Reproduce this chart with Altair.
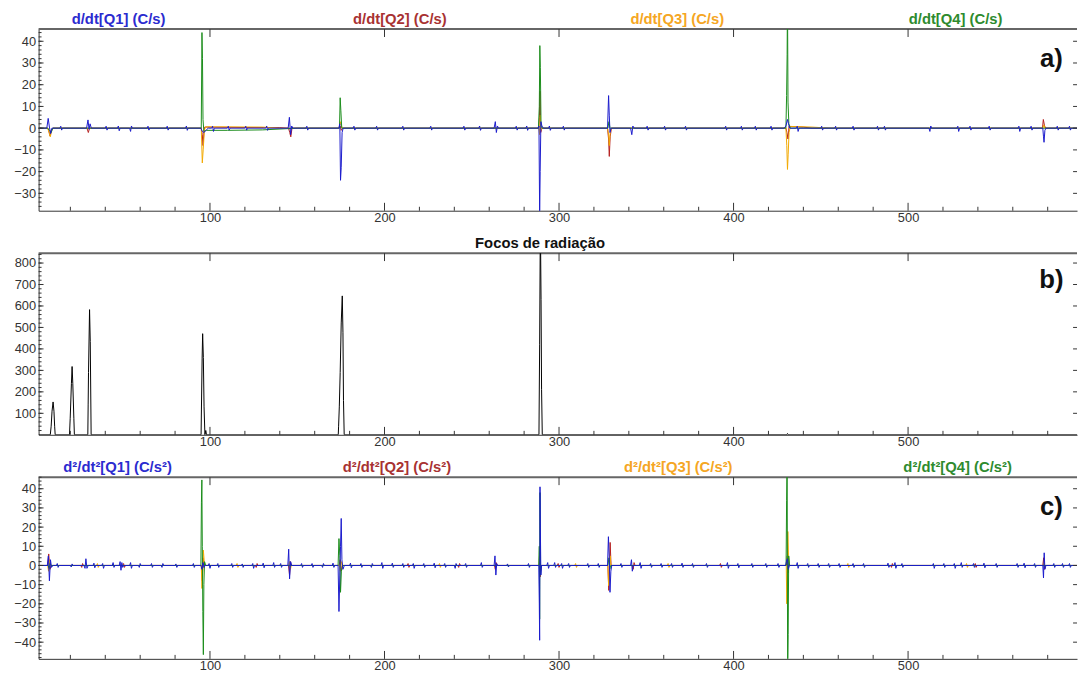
import altair as alt
import pandas as pd

# ---------------- data ----------------
X_DOMAIN = [1.8, 596.8]
X_MAJOR = [100, 200, 300, 400, 500]
X_MINOR = [20, 40, 60, 80, 120, 140, 160, 180, 220, 240, 260, 280, 320, 340, 360, 380,
           420, 440, 460, 480, 520, 540, 560, 580]

SERIES = ["Q1", "Q2", "Q3", "Q4"]
LINE_COLORS = ["#1a1acc", "#b52020", "#f2a900", "#1a8c1a"]
TITLE_COLORS = ["#2b2bcf", "#a83232", "#f5a623", "#2e8b2e"]

TITLES_A = ["d/dt[Q1] (C/s)", "d/dt[Q2] (C/s)", "d/dt[Q3] (C/s)", "d/dt[Q4] (C/s)"]
TITLES_C = ["d\u00b2/dt\u00b2[Q1] (C/s\u00b2)", "d\u00b2/dt\u00b2[Q2] (C/s\u00b2)",
            "d\u00b2/dt\u00b2[Q3] (C/s\u00b2)", "d\u00b2/dt\u00b2[Q4] (C/s\u00b2)"]
TITLE_B = "Focos de radia\u00e7\u00e3o"

# panel a) first derivative
A_Q1 = [(1.8,0),(6.5,0),(7.3,4.5),(8.0,0.5),(8.7,-2.5),(9.4,0),
        (14,0),(14.5,0.9),(15,-0.9),(15.5,0),
        (29.3,0),(30.1,3.8),(30.7,-0.5),(31.3,2),(32,0),
        (40,0),(40.5,0.9),(41,-0.9),(41.5,0),
        (47,0),(47.5,1),(48,-1.2),(48.5,0),
        (54,0),(54.5,-1.5),(55,1),(55.5,0),
        (64,0),(64.5,0.9),(65,-0.9),(65.5,0),
        (75,0),(75.5,0.9),(76,-0.9),(76.5,0),
        (86,0),(86.5,1),(87,-1),(87.5,0),
        (94.8,0),(95.6,-1.5),(96.5,-2),(97.5,-1.2),(99,0),
        (101,0),(101.5,0.9),(102,-1.5),(102.5,0),
        (110,0),(110.5,0.9),(111,-0.9),(111.5,0),
        (120,0),(120.5,0.9),(121,-0.9),(121.5,0),
        (132,0),(132.5,1),(133,-1),(133.5,0),
        (144.8,0),(145.5,5),(146.2,-3),(146.8,1),(147.5,0),
        (155,0),(155.5,0.9),(156,-0.9),(156.5,0),
        (173.8,0),(174.4,2),(174.8,-24),(175.2,-18),(175.7,-2),(176.3,0),
        (182,0),(182.5,0.9),(183,-0.9),(183.5,0),
        (195,0),(195.5,0.9),(196,-0.9),(196.5,0),
        (210,0),(210.5,0.9),(211,-0.9),(211.5,0),
        (226,0),(226.5,0.9),(227,-0.9),(227.5,0),
        (245,0),(245.5,0.9),(246,-0.9),(246.5,0),
        (254,0),(254.5,1),(255,-1),(255.5,0),
        (262.8,0),(263.5,3),(264.1,-2),(264.7,1),(265.3,0),
        (275,0),(275.5,0.9),(276,-0.9),(276.5,0),
        (281,0),(281.5,1),(282,-1),(282.5,0),
        (288,0),(288.5,1),(288.9,-40),(289.2,-20),(289.6,3),(290.2,1),(291,0),
        (294,0),(294.5,1),(295,-1),(295.5,0),
        (302,0),(302.5,0.9),(303,-0.9),(303.5,0),
        (327.8,0),(328.4,15),(328.8,6),(329.2,-2),(329.8,0),
        (341,0),(341.7,-3),(342.3,1),(343,0),
        (350,0),(350.5,0.9),(351,-0.9),(351.5,0),
        (360,0),(360.5,0.9),(361,-0.9),(361.5,0),
        (372,0),(372.5,0.9),(373,-0.9),(373.5,0),
        (395,0),(395.5,0.9),(396,-0.9),(396.5,0),
        (404,0),(404.5,0.9),(405,-0.9),(405.5,0),
        (412,0),(412.5,0.9),(413,-0.9),(413.5,0),
        (421,0),(421.5,0.9),(422,-0.9),(422.5,0),
        (429,0),(430,1),(430.9,4),(431.5,2),(432.2,0),
        (436,0),(436.5,0.9),(437,-1.5),(437.5,0),
        (450,0),(450.5,0.9),(451,-0.9),(451.5,0),
        (458,0),(458.5,0.9),(459,-0.9),(459.5,0),
        (468,0),(468.5,0.9),(469,-0.9),(469.5,0),
        (482,0),(482.5,0.9),(483,-0.9),(483.5,0),
        (486,0),(486.5,0.9),(487,-0.9),(487.5,0),
        (512,0),(512.5,-1.5),(513,1),(513.5,0),
        (528,0),(528.5,0.9),(529,-1.5),(529.5,0),
        (535,0),(535.5,0.9),(536,-0.9),(536.5,0),
        (546,0),(546.5,0.9),(547,-0.9),(547.5,0),
        (563,0),(563.5,0.9),(564,-1.5),(564.5,0),
        (570,0),(570.5,0.9),(571,-0.9),(571.5,0),
        (577.2,0),(577.6,-4),(577.9,-6.5),(578.4,-1),(579,0),
        (585,0),(585.5,0.9),(586,-0.9),(586.5,0),
        (592,0),(592.5,0.9),(593,-0.9),(593.5,0),
        (596.8,0)]
A_Q2 = [(1.8,0),(7,0),(7.6,-1),(8.3,-3.5),(9,-1),(10,0),(29.5,0),(30.3,-2),(31,0),
        (95,0),(95.6,-3),(96,-8),(96.6,-1),(97,0.5),(120,0.3),(140,0.3),
        (145,0),(145.7,-2),(146.3,-4),(147,0),(174,0),(174.6,1),(175.2,-1),(176,0),
        (288.4,0),(288.8,5),(289.1,17),(289.5,-2),(290.2,0),
        (327.8,0),(328.4,-5),(328.8,-13),(329.3,-4),(330,0),
        (430,0),(430.6,-2),(431.2,-5),(431.8,1),(432.4,0.8),(440,0.5),(445,0),
        (577,0),(577.5,4),(578.2,1),(579,0),(596.8,0)]
A_Q3 = [(1.8,0),(7,0),(7.8,-2),(8.5,-4),(9.3,-1),(10,0),
        (95,0),(95.6,-16),(96.1,-10),(96.8,-1),(97.5,0.6),(110,0.6),(130,0.5),(140,0),
        (174,0),(174.6,3),(175.3,1),(176,0),
        (288.4,0),(288.9,-3),(289.2,6),(289.6,-1),(290.2,0),
        (327.8,0),(328.4,-3),(328.8,-8),(329.3,-2),(330,0),
        (430,0),(430.5,-8),(430.9,-19),(431.3,-12),(431.8,-2),(432.5,0.8),(445,0.5),(455,0),
        (577.2,0),(577.8,1.5),(578.4,0),(596.8,0)]
A_Q4 = [(1.8,0),(7,0),(8,-1),(9,-2),(10,0),
        (95,0),(95.4,44),(95.7,32),(96,4),(96.5,-1.5),(98,-1),(110,-1),(130,-0.8),(150,0),
        (174.2,0),(174.6,14),(175,8),(175.5,0),
        (288.2,0),(288.7,10),(289,38),(289.3,28),(289.7,1),(290.3,0),
        (328,0),(328.6,3),(329.2,0),
        (430,0),(430.4,15),(430.7,34),(430.9,60),(431.2,12),(431.7,2),(432.5,0),
        (596.8,0)]

# panel b) radiation foci
B_FOCI = [(1.8,0),(8.5,0),(9.0,40),(9.5,110),(10.1,153),(10.6,110),(11.0,40),(11.3,0),
          (19.5,0),(19.9,77),(20.6,238),(21.0,318),(21.4,238),(22.0,77),(22.3,0),
          (30.0,0),(30.2,143),(30.4,290),(31.0,583),(31.4,434),(31.9,0),
          (94.9,0),(95.1,120),(95.5,357),(95.8,471),(96.2,360),(96.6,130),(97.1,0),(97.6,20),(98.0,0),
          (173.5,0),(173.7,40),(174.1,130),(174.6,290),(175.2,521),(175.8,647),(176.2,475),(176.5,160),(176.9,0),
          (288.5,0),(288.9,422),(289.3,1000),(289.7,631),(290.0,212),(290.4,0),
          (430.4,0),(430.9,6),(431.4,0),(596.8,0)]

# panel c) second derivative
C_Q1 = [(1.8,0),(6.8,0),(7.4,5),(8.0,-8),(8.6,3),(9.2,-1),(10,0),
        (12,0),(12.5,1),(13,-1),(13.5,0),
        (20,0),(20.5,-0.8),(21,0.8),(21.5,0),
        (27.8,0),(28.4,-1.5),(28.9,3.5),(29.5,-1.5),(30.2,0),
        (33,0),(33.5,1.2),(34,-1.2),(34.5,0),
        (38,0),(38.5,1),(39,-1.5),(39.5,0),
        (44,0),(44.5,1.5),(45,-1),(45.5,0),
        (48,0),(48.5,2),(49,-2.5),(49.5,1.5),(50,-1),(50.5,0),
        (54,0),(54.5,1.5),(55,-1.5),(55.5,0),
        (59,0),(59.5,-1),(60,1),(60.5,0),
        (66,0),(66.5,1),(67,-1),(67.5,0),
        (72,0),(72.5,-1),(73,1),(73.5,0),
        (80,0),(80.5,0.8),(81,-1),(81.5,0),
        (90,0),(90.5,1),(91,-1),(91.5,0),
        (94.8,0),(95.4,-2),(96,1.5),(96.6,-1),(97.2,0),
        (99,0),(99.5,1),(100,-1.5),(100.5,0),
        (104,0),(104.5,1),(105,-1),(105.5,0),
        (112,0),(112.5,1),(113,-1),(113.5,0),
        (118,0),(118.5,0.8),(119,-1),(119.5,0),
        (124,0),(124.5,1),(125,-1.5),(125.5,0),
        (130,0),(130.5,1.2),(131,-1.2),(131.5,0),
        (136,0),(136.5,1.5),(137,-1),(137.5,0),
        (140,0),(140.5,1),(141,-1),(141.5,0),
        (144.6,0),(145.1,8.5),(145.6,-7),(146.2,2),(146.8,0),
        (152,0),(152.5,1),(153,-1),(153.5,0),
        (158,0),(158.5,1),(159,-1),(159.5,0),
        (164,0),(164.5,-1),(165,1),(165.5,0),
        (170,0),(170.5,1.2),(171,-1),(171.5,0),
        (173.4,0),(173.9,-24),(174.4,-5),(174.8,10),(175.2,24.5),(175.6,3),(176.2,-2),(177,0),
        (180,0),(180.5,1.2),(181,-1.2),(181.5,0),
        (186,0),(186.5,1),(187,-1),(187.5,0),
        (192,0),(192.5,-1),(193,1),(193.5,0),
        (198,0),(198.5,1.5),(199,-1.5),(199.5,0),
        (204,0),(204.5,1.2),(205,-1),(205.5,0),
        (210,0),(210.5,1),(211,-1),(211.5,0),
        (216,0),(216.5,1),(217,-1.5),(217.5,0),
        (222,0),(222.5,1),(223,-1),(223.5,0),
        (228,0),(228.5,1.2),(229,-1.2),(229.5,0),
        (234,0),(234.5,1),(235,-1),(235.5,0),
        (240,0),(240.5,-1.5),(241,1),(241.5,0),
        (246,0),(246.5,1),(247,-1),(247.5,0),
        (255,0),(255.5,1.5),(256,-1),(256.5,0),
        (262.8,0),(263.3,5),(263.8,-5),(264.3,1),(264.8,0),
        (270,0),(270.5,0.8),(271,-0.8),(271.5,0),
        (282,0),(282.5,1),(283,-1),(283.5,0),
        (288.4,0),(288.7,-20),(288.9,-39),(289.1,41),(289.3,20),(289.6,-5),(290.0,0),
        (293,0),(293.5,1.5),(294,-1.5),(294.5,0),
        (297,0),(297.5,1.5),(298,-1),(298.5,0),
        (301,0),(301.5,1),(302,-1.5),(302.5,0),
        (305,0),(305.5,1),(306,-1),(306.5,0),
        (316,0),(316.5,1),(317,-1),(317.5,0),
        (322,0),(322.5,1),(323,-1),(323.5,0),
        (327.8,0),(328.3,15),(328.8,4),(329.2,-14),(329.7,-3),(330.2,0),
        (335,0),(335.5,1),(336,-1),(336.5,0),
        (341,0),(341.5,3),(342,-3),(342.5,0),
        (346,0),(346.5,1.5),(347,-1.5),(347.5,0),
        (352,0),(352.5,1),(353,-1),(353.5,0),
        (358,0),(358.5,1),(359,-1),(359.5,0),
        (364,0),(364.5,1),(365,-1),(365.5,0),
        (370,0),(370.5,1.2),(371,-1),(371.5,0),
        (376,0),(376.5,1),(377,-1),(377.5,0),
        (384,0),(384.5,1),(385,-1),(385.5,0),
        (396,0),(396.5,1.5),(397,-1.5),(397.5,0),
        (402,0),(402.5,1),(403,-1.2),(403.5,0),
        (410,0),(410.5,1),(411,-1),(411.5,0),
        (418,0),(418.5,1),(419,-1),(419.5,0),
        (425,0),(425.5,1),(426,-1),(426.5,0),
        (429.8,0),(430.3,2),(430.9,3.5),(431.4,-2),(432,0),
        (436,0),(436.5,1.5),(437,-1.5),(437.5,0),
        (442,0),(442.5,1),(443,-1),(443.5,0),
        (448,0),(448.5,1),(449,-1),(449.5,0),
        (454,0),(454.5,1),(455,-1),(455.5,0),
        (460,0),(460.5,1),(461,-1),(461.5,0),
        (468,0),(468.5,1),(469,-1),(469.5,0),
        (474,0),(474.5,1),(475,-1),(475.5,0),
        (488,0),(488.5,1.2),(489,-1),(489.5,0),
        (492,0),(492.5,1.5),(493,-1.5),(493.5,0),
        (496,0),(496.5,1),(497,-1),(497.5,0),
        (514,0),(514.5,1),(515,-1.5),(515.5,0),
        (520,0),(520.5,1),(521,-1),(521.5,0),
        (526,0),(526.5,1),(527,-1.5),(527.5,0),
        (530,0),(530.5,1.5),(531,-1),(531.5,0),
        (537,0),(537.5,1),(538,-1),(538.5,0),
        (543,0),(543.5,1.2),(544,-1.2),(544.5,0),
        (550,0),(550.5,1),(551,-1),(551.5,0),
        (562,0),(562.5,1),(563,-1),(563.5,0),
        (566,0),(566.5,1.2),(567,-1.2),(567.5,0),
        (572,0),(572.5,1),(573,-1),(573.5,0),
        (577.2,0),(577.6,-6.5),(578.0,6.6),(578.4,-2),(579,0),
        (583,0),(583.5,1),(584,-1),(584.5,0),
        (588,0),(588.5,1),(589,-1),(589.5,0),
        (592,0),(592.5,1),(593,-1),(593.5,0),
        (596.8,0)]
C_Q2 = [(1.8,0),(7,0),(7.6,6),(8.3,-2),(9,0),
        (26,0),(26.5,-1),(27,1),(27.5,0),
        (50,0),(50.5,1),(51,-1),(51.5,0),
        (95.2,0),(95.6,-8),(96,4),(96.5,-1),(97,0),
        (126,0),(126.5,-1),(127,1),(127.5,0),
        (145,0),(145.6,-5),(146.1,2),(146.6,0),
        (174,0),(174.6,3),(175.2,-3),(175.8,0),
        (213,0),(213.5,1),(214,-1),(214.5,0),
        (242,0),(242.5,-1),(243,1),(243.5,0),
        (263,0),(263.5,-2),(264,1.5),(264.5,0),
        (288.6,0),(288.9,7),(289.2,-6),(289.6,0),
        (299,0),(299.5,1),(300,-1),(300.5,0),
        (328,0),(328.5,-13),(328.9,-3),(329.3,12),(329.8,0),
        (342,0),(342.5,-2),(343,1.5),(343.5,0),
        (392,0),(392.5,1),(393,-1),(393.5,0),
        (430.3,0),(430.8,5),(431.2,-4),(431.6,0),
        (490,0),(490.5,-1),(491,1),(491.5,0),
        (538,0),(538.5,1),(539,-1),(539.5,0),
        (577.2,0),(577.7,4),(578.2,-2),(578.7,0),(596.8,0)]
C_Q3 = [(1.8,0),(7,0),(7.5,-3),(8.1,2.5),(8.8,0),
        (35,0),(35.5,1),(36,-1),(36.5,0),
        (95,0),(95.4,-12),(95.8,-6),(96.2,8),(96.7,2),(97.3,0),
        (115,0),(115.5,1),(116,-1),(116.5,0),
        (145,0),(145.6,2),(146.1,-2),(146.6,0),
        (174.2,0),(174.7,-3),(175.3,2),(175.9,0),
        (231,0),(231.5,1),(232,-1),(232.5,0),
        (288.7,0),(289,3),(289.3,-3),(289.7,0),
        (309,0),(309.5,1),(310,-1),(310.5,0),
        (328,0),(328.4,-10.5),(328.9,-2),(329.3,5),(329.8,0),
        (362,0),(362.5,1),(363,-1),(363.5,0),
        (430.2,0),(430.5,-20),(430.8,-10),(431.1,17.7),(431.5,5),(432,0),
        (465,0),(465.5,1),(466,-1),(466.5,0),
        (533,0),(533.5,1),(534,-1),(534.5,0),
        (577.5,0),(577.9,1.5),(578.3,0),(596.8,0)]
C_Q4 = [(1.8,0),(7.3,0),(7.8,-1.5),(8.4,1),(9,0),
        (94.8,0),(95.1,33),(95.35,44.6),(95.6,10),(95.9,-24),(96.2,-46.5),(96.5,-10),(96.9,2),(97.5,0),
        (173.4,0),(173.9,14),(174.4,5),(174.8,-14),(175.3,-3),(176,0),
        (288.4,0),(288.7,10),(288.9,-28),(289.1,38),(289.4,-5),(289.8,0),
        (328,0),(328.6,4),(329.1,-2),(329.6,0),
        (430.1,0),(430.4,34),(430.7,60),(431.0,-60),(431.3,-36),(431.6,5),(432.1,0),
        (596.8,0)]

A_Y_DOMAIN = [-38, 45.6]
A_Y_TICKS = [-30, -20, -10, 0, 10, 20, 30, 40]
B_Y_DOMAIN = [0, 846]
B_Y_TICKS = [100, 200, 300, 400, 500, 600, 700, 800]
C_Y_DOMAIN = [-48.7, 46]
C_Y_TICKS = [-40, -30, -20, -10, 0, 10, 20, 30, 40]

# ---------------- styling ----------------
W, H = 1052, 184
FONT = "Liberation Sans"
AXIS_COLOR = "#333333"
LABEL_COLOR = "#333333"


def one_row(v):
    return pd.DataFrame({"v": [v]})


def make_panel(series, colors, ydomain, yticks, yminor_step, titles, title_colors,
               title_x, letter, letter_y):
    xscale = alt.Scale(domain=X_DOMAIN, nice=False, zero=False)
    yscale = alt.Scale(domain=ydomain, nice=False, zero=False)
    xaxis = alt.Axis(values=X_MAJOR, format="d", ticks=False, grid=False, title=None,
                     labelFont=FONT, labelFontSize=13, labelColor=LABEL_COLOR,
                     domainColor=AXIS_COLOR, domainWidth=1, labelPadding=1, labelFlush=False)
    yaxis = alt.Axis(values=yticks, format="d", ticks=False, grid=False, title=None,
                     labelFont=FONT, labelFontSize=13, labelColor=LABEL_COLOR,
                     domainColor=AXIS_COLOR, domainWidth=1, labelPadding=3, labelFlush=False)

    def X(f="x"):
        return alt.X(f"{f}:Q", scale=xscale, axis=xaxis)

    def Y(f="y"):
        return alt.Y(f"{f}:Q", scale=yscale, axis=yaxis)

    layers = []
    layers.append(alt.Chart(one_row(0)).mark_rule(color="#666666", strokeWidth=2).encode(
        x=alt.value(0), x2=alt.value(W), y=alt.value(0)))
    for pts, col in zip(series, colors):
        df = pd.DataFrame(pts, columns=["x", "y"])
        layers.append(alt.Chart(df).mark_line(color=col, strokeWidth=1, clip=True).encode(
            x=X(), y=Y()))
    xmaj = pd.DataFrame({"x": X_MAJOR})
    xmin = pd.DataFrame({"x": X_MINOR})
    layers.append(alt.Chart(xmaj).mark_rule(color=AXIS_COLOR, strokeWidth=1).encode(
        x=X(), y=alt.value(H), y2=alt.value(H - 8)))
    layers.append(alt.Chart(xmin).mark_rule(color=AXIS_COLOR, strokeWidth=1).encode(
        x=X(), y=alt.value(H), y2=alt.value(H - 4)))
    layers.append(alt.Chart(xmaj).mark_rule(color=AXIS_COLOR, strokeWidth=1).encode(
        x=X(), y=alt.value(0), y2=alt.value(8)))
    ymaj = pd.DataFrame({"y": yticks})
    lo, hi = ydomain
    start = int(lo // yminor_step + 1) * yminor_step
    yminor_vals = [v for v in range(start, int(hi) + 1, yminor_step) if v > lo]
    ymin = pd.DataFrame({"y": yminor_vals})
    layers.append(alt.Chart(ymaj).mark_rule(color=AXIS_COLOR, strokeWidth=1).encode(
        y=Y(), x=alt.value(0), x2=alt.value(5)))
    layers.append(alt.Chart(ymin).mark_rule(color=AXIS_COLOR, strokeWidth=1).encode(
        y=Y(), x=alt.value(0), x2=alt.value(3)))
    layers.append(alt.Chart(ymaj).mark_rule(color=AXIS_COLOR, strokeWidth=1).encode(
        y=Y(), x=alt.value(W - 4), x2=alt.value(W)))
    for t, c, tx in zip(titles, title_colors, title_x):
        layers.append(alt.Chart(pd.DataFrame({"t": [t]})).mark_text(
            font=FONT, fontSize=15, fontWeight="bold", color=c, align="center",
            baseline="middle").encode(text="t:N", x=alt.value(tx), y=alt.value(-10)))
    layers.append(alt.Chart(pd.DataFrame({"t": [letter]})).mark_text(
        font=FONT, fontSize=26, fontWeight="bold", color="#111111", align="center",
        baseline="middle").encode(text="t:N", x=alt.value(1026), y=alt.value(letter_y)))
    return alt.layer(*layers).properties(width=W, height=H)


order = [1, 2, 3, 0]  # draw red, orange, green, then blue on top
panel_a = make_panel([[A_Q1, A_Q2, A_Q3, A_Q4][i] for i in order],
                     [LINE_COLORS[i] for i in order],
                     A_Y_DOMAIN, A_Y_TICKS, 2, TITLES_A, TITLE_COLORS,
                     [81, 366, 647, 929], "a)", 30)
panel_b = make_panel([B_FOCI], ["#000000"], B_Y_DOMAIN, B_Y_TICKS, 20,
                     [TITLE_B], ["#111111"], [508], "b)", 27)
panel_c = make_panel([[C_Q1, C_Q2, C_Q3, C_Q4][i] for i in order],
                     [LINE_COLORS[i] for i in order],
                     C_Y_DOMAIN, C_Y_TICKS, 2, TITLES_C, TITLE_COLORS,
                     [80, 363, 648, 931], "c)", 30)

chart = alt.vconcat(panel_a, panel_b, panel_c, spacing=43, bounds="flush").configure_view(
    strokeWidth=0).properties(padding={"left": 5, "top": 0, "right": 0, "bottom": 0},
                              background="white")

chart.save("out.html", embed_options={"renderer": "svg", "actions": False})
